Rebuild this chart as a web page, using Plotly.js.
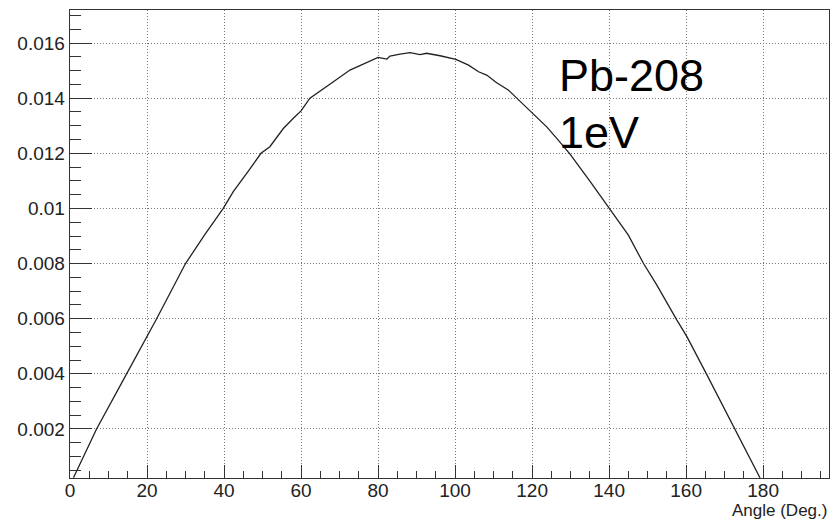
<!DOCTYPE html>
<html>
<head>
<meta charset="utf-8">
<script src="https://cdn.plot.ly/plotly-3.0.1.min.js"></script>
<style>html,body{margin:0;padding:0;background:#fff;}#chart{width:830px;height:522px;}</style>
</head>
<body>
<div id="chart"></div>
<script>
var angles = [0.9, 6.9, 14.7, 19.5, 22.5, 30.0, 35.0, 39.8, 42.4, 46.5, 49.6, 51.9, 55.4, 58.0, 60.0, 62.3, 64.1, 68.4, 72.7, 77.1, 80.0, 82.3, 83.1, 85.7, 88.3, 90.9, 92.6, 96.1, 100.2, 103.5, 106.1, 108.2, 110.8, 113.8, 116.4, 120.3, 123.8, 126.4, 129.9, 135.1, 138.1, 140.3, 145.0, 148.9, 152.4, 157.6, 160.2, 165.4, 172.7, 179.2];
var values = [0.00023, 0.0020, 0.0040, 0.00523, 0.0060, 0.0080, 0.00905, 0.0100, 0.01061, 0.01139, 0.0120, 0.01224, 0.0129, 0.01327, 0.01354, 0.0140, 0.01417, 0.0146, 0.01502, 0.01528, 0.01548, 0.01542, 0.01553, 0.0156, 0.01565, 0.01558, 0.01563, 0.01554, 0.01541, 0.0152, 0.01496, 0.01484, 0.01456, 0.0143, 0.01396, 0.01342, 0.01296, 0.01254, 0.01196, 0.01097, 0.01037, 0.00997, 0.00903, 0.00801, 0.00722, 0.00595, 0.00535, 0.00396, 0.00196, 0.00022];
var xTitle = "Angle (Deg.)";
var labelLines = ["Pb-208", "1eV"];

var font = "Liberation Sans, Arial, sans-serif";
var trace = {x: angles, y: values, type: "scatter", mode: "lines",
  line: {color: "#222", width: 1.3}, hoverinfo: "none"};

var layout = {
  width: 830, height: 522,
  margin: {l: 70, r: 1, t: 10, b: 44},
  paper_bgcolor: "#fff", plot_bgcolor: "#fff",
  showlegend: false,
  font: {family: font, color: "#222", size: 19},
  xaxis: {
    range: [0, 197.1], tick0: 0, dtick: 20,
    ticks: "inside", ticklen: 13, tickcolor: "#333", tickwidth: 1,
    showline: true, linecolor: "#333", linewidth: 1.3, mirror: true,
    showgrid: true, gridcolor: "#777", griddash: "1px,2px", gridwidth: 1,
    zeroline: false, ticklabelstandoff: -5,
    minor: {dtick: 5, ticks: "inside", ticklen: 7, tickcolor: "#333", showgrid: false},
    tickfont: {family: font, size: 19, color: "#222"}
  },
  yaxis: {
    range: [0.00022, 0.0172], tick0: 0, dtick: 0.002,
    ticks: "inside", ticklen: 22, tickcolor: "#333", tickwidth: 1,
    showline: true, linecolor: "#333", linewidth: 1.3, mirror: true,
    showgrid: true, gridcolor: "#777", griddash: "1px,2px", gridwidth: 1,
    zeroline: false,
    minor: {dtick: 0.0005, ticks: "inside", ticklen: 11, tickcolor: "#333", showgrid: false},
    tickfont: {family: font, size: 19, color: "#222"}
  },
  annotations: [
    {xref: "paper", yref: "paper", x: 1, y: -0.070, xanchor: "right", yanchor: "middle",
     text: xTitle, showarrow: false, font: {family: font, size: 17, color: "#222"}},
    {xref: "paper", yref: "paper", x: 0.641, y: 0.861, xanchor: "left", yanchor: "middle",
     text: labelLines[0], showarrow: false, font: {family: font, size: 45, color: "#000"}},
    {xref: "paper", yref: "paper", x: 0.641, y: 0.739, xanchor: "left", yanchor: "middle",
     text: labelLines[1], showarrow: false, font: {family: font, size: 45, color: "#000"}}
  ]
};
Plotly.newPlot("chart", [trace], layout, {staticPlot: true});
</script>
</body>
</html>
